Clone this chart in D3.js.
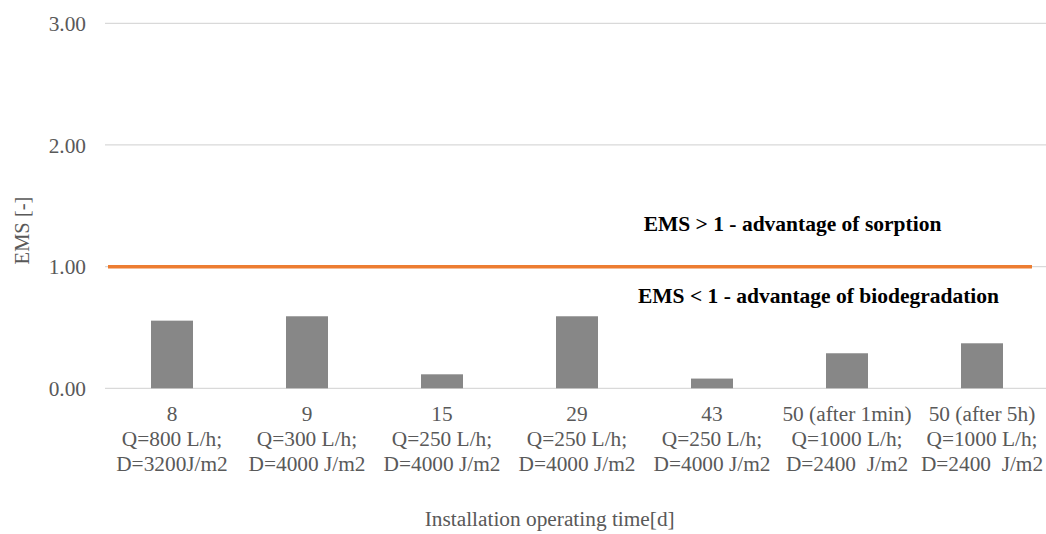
<!DOCTYPE html>
<html>
<head>
<meta charset="utf-8">
<script src="https://cdn.jsdelivr.net/npm/d3@7"></script>
</head>
<body style="margin:0;padding:0;background:#fff;">
<svg id="chart" width="1046" height="534" style="display:block;font-family:'Liberation Serif';"></svg>
<script>
// ---- data ----
const days = ["8", "9", "15", "29", "43", "50 (after 1min)", "50 (after 5h)"];
const flows = ["Q=800 L/h;", "Q=300 L/h;", "Q=250 L/h;", "Q=250 L/h;", "Q=250 L/h;", "Q=1000 L/h;", "Q=1000 L/h;"];
const doses = ["D=3200J/m2", "D=4000 J/m2", "D=4000 J/m2", "D=4000 J/m2", "D=4000 J/m2", "D=2400  J/m2", "D=2400  J/m2"];
const emsValues = [0.556, 0.592, 0.115, 0.592, 0.08, 0.288, 0.37];
const yTicks = [0, 1, 2, 3];
const threshold = 1;
const labelAbove = "EMS > 1 - advantage of sorption";
const labelBelow = "EMS < 1 - advantage of biodegradation";
const yTitle = "EMS [-]";
const xTitle = "Installation operating time[d]";

// ---- layout ----
const FONT = "'Liberation Serif', Tinos, serif";
const FS = "21.33px";
const svg = d3.select("#chart");
const plotLeft = 104.5, plotRight = 1049.5, plotTop = 23.3, plotBottom = 388.3;

const x = d3.scaleBand()
  .domain(d3.range(days.length))
  .range([plotLeft, plotRight])
  .paddingInner(0.689)
  .paddingOuter(0.3445);

const y = d3.scaleLinear().domain([0, 3]).range([plotBottom, plotTop]);

const grey = "#595959";

// gridlines
svg.append("g").selectAll("line").data(yTicks).join("line")
  .attr("x1", plotLeft + 0.5).attr("x2", 1046)
  .attr("y1", d => y(d)).attr("y2", d => y(d))
  .attr("stroke", "#d9d9d9").attr("stroke-width", 1.3);

// y tick labels
const yAxis = d3.axisLeft(y).tickValues(yTicks).tickFormat(d3.format(".2f")).tickSize(0).tickPadding(0);
const yg = svg.append("g").attr("transform", `translate(86,0)`).call(yAxis);
yg.select(".domain").remove();
yg.attr("font-family", null);
yg.selectAll("text").style("font-family", FONT).style("font-size", FS).attr("fill", grey).attr("dy", "0.33em");

// bars
svg.append("g").selectAll("rect").data(emsValues).join("rect")
  .attr("x", (d, i) => x(i))
  .attr("width", x.bandwidth())
  .attr("y", d => y(d))
  .attr("height", d => y(0) - y(d))
  .attr("fill", "#878787");

// threshold line
svg.append("line")
  .attr("x1", plotLeft + 3.5).attr("x2", plotRight - 17.5)
  .attr("y1", y(threshold)).attr("y2", y(threshold))
  .attr("stroke", "#ED7D31").attr("stroke-width", 3.5);

// x tick labels (3 lines)
const xl = svg.append("g").selectAll("text").data(days).join("text")
  .attr("text-anchor", "middle")
  .style("font-family", FONT).style("font-size", FS).style("white-space", "pre")
  .attr("fill", grey)
  .attr("x", (d, i) => x(i) + x.bandwidth() / 2)
  .attr("y", 421);
xl.each(function(d, i) {
  const t = d3.select(this);
  const cx = x(i) + x.bandwidth() / 2;
  t.append("tspan").attr("x", cx).attr("dy", 0).text(days[i]);
  t.append("tspan").attr("x", cx).attr("dy", 25).text(flows[i]);
  t.append("tspan").attr("x", cx).attr("dy", 25).text(doses[i]);
});

// annotations
svg.append("text").attr("x", 792.5).attr("y", 231)
  .attr("text-anchor", "middle").style("font-family", FONT).style("font-size", "21.5px").style("font-weight", "bold").attr("fill", "#000")
  .text(labelAbove);
svg.append("text").attr("x", 818.5).attr("y", 303)
  .attr("text-anchor", "middle").style("font-family", FONT).style("font-size", "21.5px").style("font-weight", "bold").attr("fill", "#000")
  .text(labelBelow);

// axis titles
svg.append("text")
  .attr("transform", `translate(29,${(195 + 266) / 2}) rotate(-90)`)
  .attr("text-anchor", "middle").style("font-family", FONT).style("font-size", "20.5px").attr("fill", grey)
  .text(yTitle);
svg.append("text").attr("x", 549.7).attr("y", 526)
  .attr("text-anchor", "middle").style("font-family", FONT).style("font-size", FS).attr("fill", grey)
  .text(xTitle);
</script>
</body>
</html>
